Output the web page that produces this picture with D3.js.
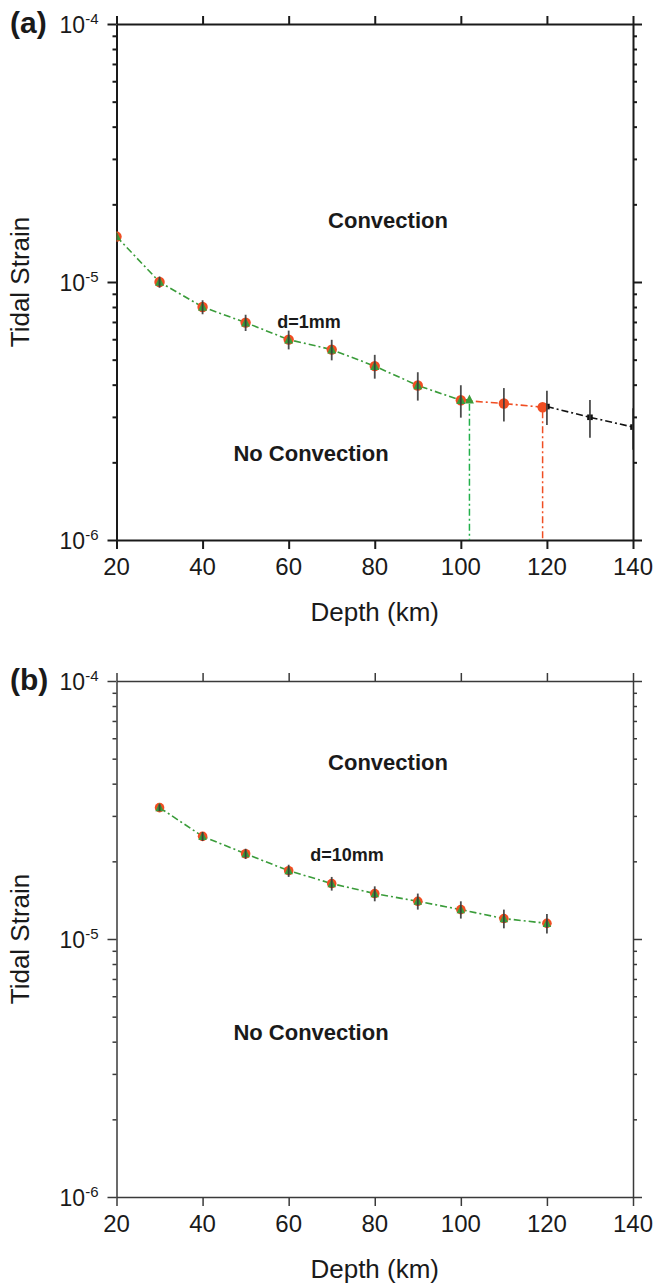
<!DOCTYPE html>
<html>
<head>
<meta charset="utf-8">
<script src="https://cdn.jsdelivr.net/npm/d3@7"></script>
<style>
	html, body { margin: 0; padding: 0; background: #fff; }
	svg { display: block; font-family: "Liberation Sans", Arial, Helvetica, sans-serif; }
	.lbl_bold { font-weight: bold; fill: #1a1a1a; }
</style>
</head>
<body>
<div id="chart"></div>
<script>
// panel (a) d=1mm
const depthA = [20, 30, 40, 50, 60, 70, 80, 90, 100, 110, 120, 130, 140];
const strainA = [1.5e-5, 1.0e-5, 8.0e-6, 6.96e-6, 5.98e-6, 5.47e-6, 4.72e-6, 3.97e-6, 3.48e-6, 3.38e-6, 3.29e-6, 2.99e-6, 2.74e-6];
const errA = [0.5e-6, 0.5e-6, 0.5e-6, 0.5e-6, 0.5e-6, 0.5e-6, 0.5e-6, 0.5e-6, 0.5e-6, 0.5e-6, 0.5e-6, 0.5e-6, 0.5e-6];
// onset of convection (green, orange)
const onsetDepthA = [102, 119];
const onsetStrainA = [3.5e-6, 3.27e-6];

// panel (b) d=10mm
const depthB = [30, 40, 50, 60, 70, 80, 90, 100, 110, 120];
const strainB = [3.23e-5, 2.5e-5, 2.14e-5, 1.84e-5, 1.64e-5, 1.5e-5, 1.4e-5, 1.3e-5, 1.2e-5, 1.15e-5];
const errB = [1e-6, 1e-6, 1e-6, 1e-6, 1e-6, 1e-6, 1e-6, 1e-6, 1e-6, 1e-6];

const xTicks = [20, 40, 60, 80, 100, 120, 140];
const yMajor = [1e-6, 1e-5, 1e-4];
const yExp = {1e-6: '-6', 1e-5: '-5', 1e-4: '-4'};

const colors = { green: '#3a9c3a', greenV: '#22b04a', orange: '#f04e23', black: '#111', err: '#3a3a3a' };
const dashDot = '7,3,2,3';

const W = 656, H = 1286;
const svg = d3.select('#chart').append('svg')
	.attr('width', W).attr('height', H)
	.attr('viewBox', `0 0 ${W} ${H}`);

const yMinor = [];
[1e-6, 1e-5].forEach(b => { for (let k = 2; k <= 9; k++) yMinor.push(b * k); });

function panel(opt) {
	const x = d3.scaleLinear().domain([20, 140]).range([116.5, 633]);
	const y = d3.scaleLog().domain([1e-6, 1e-4]).range([opt.bottom, opt.top]);
	const g = svg.append('g');
	const axisColor = opt.axisColor, sw = opt.axisWidth;

	const clipId = 'clip_' + opt.name;
	svg.append('clipPath').attr('id', clipId)
		.append('rect')
		.attr('x', x.range()[0]).attr('y', opt.top)
		.attr('width', x.range()[1] - x.range()[0]).attr('height', opt.bottom - opt.top);

	const styleAxis = sel => {
		sel.selectAll('path, line').attr('stroke', axisColor).attr('stroke-width', sw);
		sel.selectAll('text').remove();
	};

	// frame and ticks
	g.append('g').attr('transform', `translate(0,${opt.bottom})`)
		.call(d3.axisBottom(x).tickValues(xTicks).tickSize(9).tickSizeOuter(0).tickFormat(''))
		.call(styleAxis);
	g.append('g').attr('transform', `translate(0,${opt.top})`)
		.call(d3.axisTop(x).tickValues(xTicks).tickSize(8).tickSizeOuter(0).tickFormat(''))
		.call(styleAxis);
	[[d3.axisLeft, x.range()[0]], [d3.axisRight, x.range()[1]]].forEach(([ax, px]) => {
		g.append('g').attr('transform', `translate(${px},0)`)
			.call(ax(y).tickValues(yMajor).tickSize(9).tickSizeOuter(0).tickFormat(''))
			.call(styleAxis);
		g.append('g').attr('transform', `translate(${px},0)`)
			.call(ax(y).tickValues(yMinor).tickSize(4).tickSizeOuter(0).tickFormat(''))
			.call(styleAxis)
			.select('.domain').remove();
	});

	// tick labels
	g.selectAll('.xlab').data(xTicks).enter()
		.append('text')
		.attr('x', d => x(d)).attr('y', opt.bottom + 35)
		.attr('text-anchor', 'middle')
		.attr('font-size', 24).attr('fill', '#1a1a1a')
		.text(d => d);

	const ylab = g.selectAll('.ylab').data(yMajor).enter()
		.append('text')
		.attr('x', x.range()[0] - 18).attr('y', d => y(d) + 9)
		.attr('text-anchor', 'end')
		.attr('font-size', 23).attr('fill', '#1a1a1a');
	ylab.append('tspan').text('10');
	ylab.append('tspan').attr('dy', -9).attr('font-size', 15).text(d => yExp[d]);

	// axis titles
	g.append('text')
		.attr('transform', `translate(29,${(opt.top + opt.bottom) / 2}) rotate(-90)`)
		.attr('text-anchor', 'middle').attr('font-size', 26).attr('fill', '#1a1a1a')
		.text('Tidal Strain');
	g.append('text')
		.attr('x', (x.range()[0] + x.range()[1]) / 2).attr('y', opt.bottom + 81)
		.attr('text-anchor', 'middle').attr('font-size', 26).attr('fill', '#1a1a1a')
		.text('Depth (km)');
	g.append('text').classed('lbl_bold', true)
		.attr('x', 10).attr('y', opt.top + 9)
		.attr('font-size', 30)
		.text(opt.label);

	// region labels
	g.append('text').classed('lbl_bold', true)
		.attr('x', 388).attr('y', opt.convY).attr('text-anchor', 'middle').attr('font-size', 22)
		.text('Convection');
	g.append('text').classed('lbl_bold', true)
		.attr('x', 311).attr('y', opt.noConvY).attr('text-anchor', 'middle').attr('font-size', 22)
		.text('No Convection');
	g.append('text').classed('lbl_bold', true)
		.attr('x', opt.dLabel[0]).attr('y', opt.dLabel[1]).attr('text-anchor', 'middle').attr('font-size', 18)
		.text(opt.dText);

	const plot = g.append('g').attr('clip-path', `url(#${clipId})`);
	return { x, y, plot };
}

const line = (x, y) => d3.line().x(d => x(d[0])).y(d => y(d[1]));

function drawLine(p, pts, color) {
	p.plot.append('path')
		.datum(pts)
		.attr('d', line(p.x, p.y))
		.attr('fill', 'none')
		.attr('stroke', color).attr('stroke-width', 1.6)
		.attr('stroke-dasharray', dashDot);
}

function drawCircles(p, pts, r) {
	p.plot.selectAll(null).data(pts).enter()
		.append('circle')
		.attr('cx', d => p.x(d[0])).attr('cy', d => p.y(d[1]))
		.attr('r', r).attr('fill', colors.orange);
}

function drawTriangles(p, pts, s) {
	p.plot.selectAll(null).data(pts).enter()
		.append('path')
		.attr('transform', d => `translate(${p.x(d[0])},${p.y(d[1])})`)
		.attr('d', `M0,${-s * 0.58}L${s / 2},${s * 0.42}L${-s / 2},${s * 0.42}Z`)
		.attr('fill', colors.green);
}

function drawErr(p, pts, errs) {
	p.plot.selectAll(null).data(pts).enter()
		.append('line')
		.attr('x1', d => p.x(d[0])).attr('x2', d => p.x(d[0]))
		.attr('y1', (d, i) => p.y(d[1] + errs[i])).attr('y2', (d, i) => p.y(d[1] - errs[i]))
		.attr('stroke', colors.err).attr('stroke-width', 1.8).attr('stroke-opacity', 0.9);
}

// ---- panel (a)
const pa = panel({ name: 'a', top: 24, bottom: 540, label: '(a)', axisColor: '#1a1a1a', axisWidth: 2,
	convY: 228, noConvY: 461, dText: 'd=1mm', dLabel: [309, 328] });
const ptsA = depthA.map((d, i) => [d, strainA[i]]);
const onsetA = onsetDepthA.map((d, i) => [d, onsetStrainA[i]]);

const greenPts = ptsA.filter(d => d[0] <= 100).concat([onsetA[0]]);
const orangePts = ptsA.filter(d => d[0] <= 110).concat([onsetA[1]]);
const blackPts = ptsA.filter(d => d[0] >= 120);

drawLine(pa, blackPts, colors.black);
drawLine(pa, orangePts.filter(d => d[0] >= 100), colors.orange);
drawLine(pa, greenPts, colors.green);

// vertical onset lines
[[onsetA[0], colors.greenV], [onsetA[1], colors.orange]].forEach(([d, c]) => {
	pa.plot.append('line')
		.attr('x1', pa.x(d[0])).attr('x2', pa.x(d[0]))
		.attr('y1', pa.y(d[1]) + 4).attr('y2', pa.y(1e-6))
		.attr('stroke', c).attr('stroke-width', 1.5)
		.attr('stroke-dasharray', dashDot);
});

pa.plot.selectAll(null).data(blackPts).enter()
	.append('rect')
	.attr('x', d => pa.x(d[0]) - 2.8).attr('y', d => pa.y(d[1]) - 2.8)
	.attr('width', 5.6).attr('height', 5.6).attr('fill', colors.black);
drawCircles(pa, orangePts, 5.2);
drawTriangles(pa, greenPts, 9);
drawErr(pa, ptsA, errA);

// ---- panel (b)
const pb = panel({ name: 'b', top: 681, bottom: 1197, label: '(b)', axisColor: '#3a3a3a', axisWidth: 1.5,
	convY: 770, noConvY: 1040, dText: 'd=10mm', dLabel: [347, 861] });
const ptsB = depthB.map((d, i) => [d, strainB[i]]);
drawLine(pb, ptsB, colors.green);
drawCircles(pb, ptsB, 4.8);
drawTriangles(pb, ptsB, 8.5);
drawErr(pb, ptsB, errB);
</script>
</body>
</html>
